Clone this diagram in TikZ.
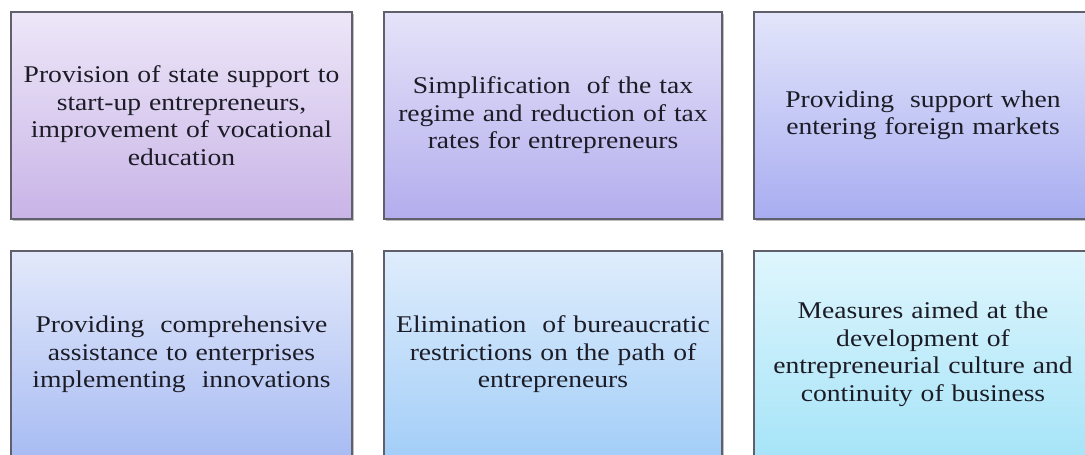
\documentclass[tikz,border=0pt]{standalone}
\usepackage{fontspec}
\setmainfont{Liberation Serif}[FakeStretch=1.15]
\usetikzlibrary{shadows}

% gradient fills of the six boxes
\definecolor{c1top}{RGB}{237,231,248}\definecolor{c1bot}{RGB}{201,180,231}
\definecolor{c2top}{RGB}{229,227,249}\definecolor{c2bot}{RGB}{179,173,237}
\definecolor{c3top}{RGB}{227,229,250}\definecolor{c3bot}{RGB}{168,173,241}
\definecolor{c4top}{RGB}{227,233,251}\definecolor{c4bot}{RGB}{168,188,243}
\definecolor{c5top}{RGB}{223,237,252}\definecolor{c5bot}{RGB}{163,206,248}
\definecolor{c6top}{RGB}{223,246,253}\definecolor{c6bot}{RGB}{166,228,248}
\definecolor{edge}{RGB}{96,96,108}
\definecolor{ink}{RGB}{28,28,38}

\tikzset{
  card/.style={draw=edge, line width=1.3pt, rectangle,
    minimum width=338pt, minimum height=207pt,
    text width=330pt, align=center, text=ink,
    font=\fontsize{24}{27.5}\selectfont, inner sep=0pt,
    drop shadow={shadow xshift=1.6pt, shadow yshift=-1.6pt,
      fill=black, opacity=0.25}},
}

\begin{document}
\begin{tikzpicture}[x=1pt,y=1pt]
\useasboundingbox (0,0) rectangle (1085,455);
\clip (0,0) rectangle (1085,455);
\fill[white] (0,0) rectangle (1085,455);

% upper row
\node[card, minimum width=341pt, top color=c1top, bottom color=c1bot] (b1) at (181.5,339.5)
  {Provision of state support to\\start-up entrepreneurs,\\improvement of vocational\\education};
\node[card, top color=c2top, bottom color=c2bot] (b2) at (553,339.5)
  {Simplification \ of the tax\\regime and reduction of tax\\rates for entrepreneurs};
\node[card, top color=c3top, bottom color=c3bot] (b3) at (923,339.5)
  {Providing \ support when\\entering foreign markets};

% lower row
\node[card, minimum width=341pt, top color=c4top, bottom color=c4bot] (b4) at (181.5,100.5)
  {Providing \ comprehensive\\assistance to enterprises\\implementing \ innovations};
\node[card, top color=c5top, bottom color=c5bot] (b5) at (553,100.5)
  {Elimination \ of bureaucratic\\restrictions on the path of\\entrepreneurs};
\node[card, top color=c6top, bottom color=c6bot] (b6) at (923,100.5)
  {Measures aimed at the\\development of\\entrepreneurial culture and\\continuity of business};
\end{tikzpicture}
\end{document}
